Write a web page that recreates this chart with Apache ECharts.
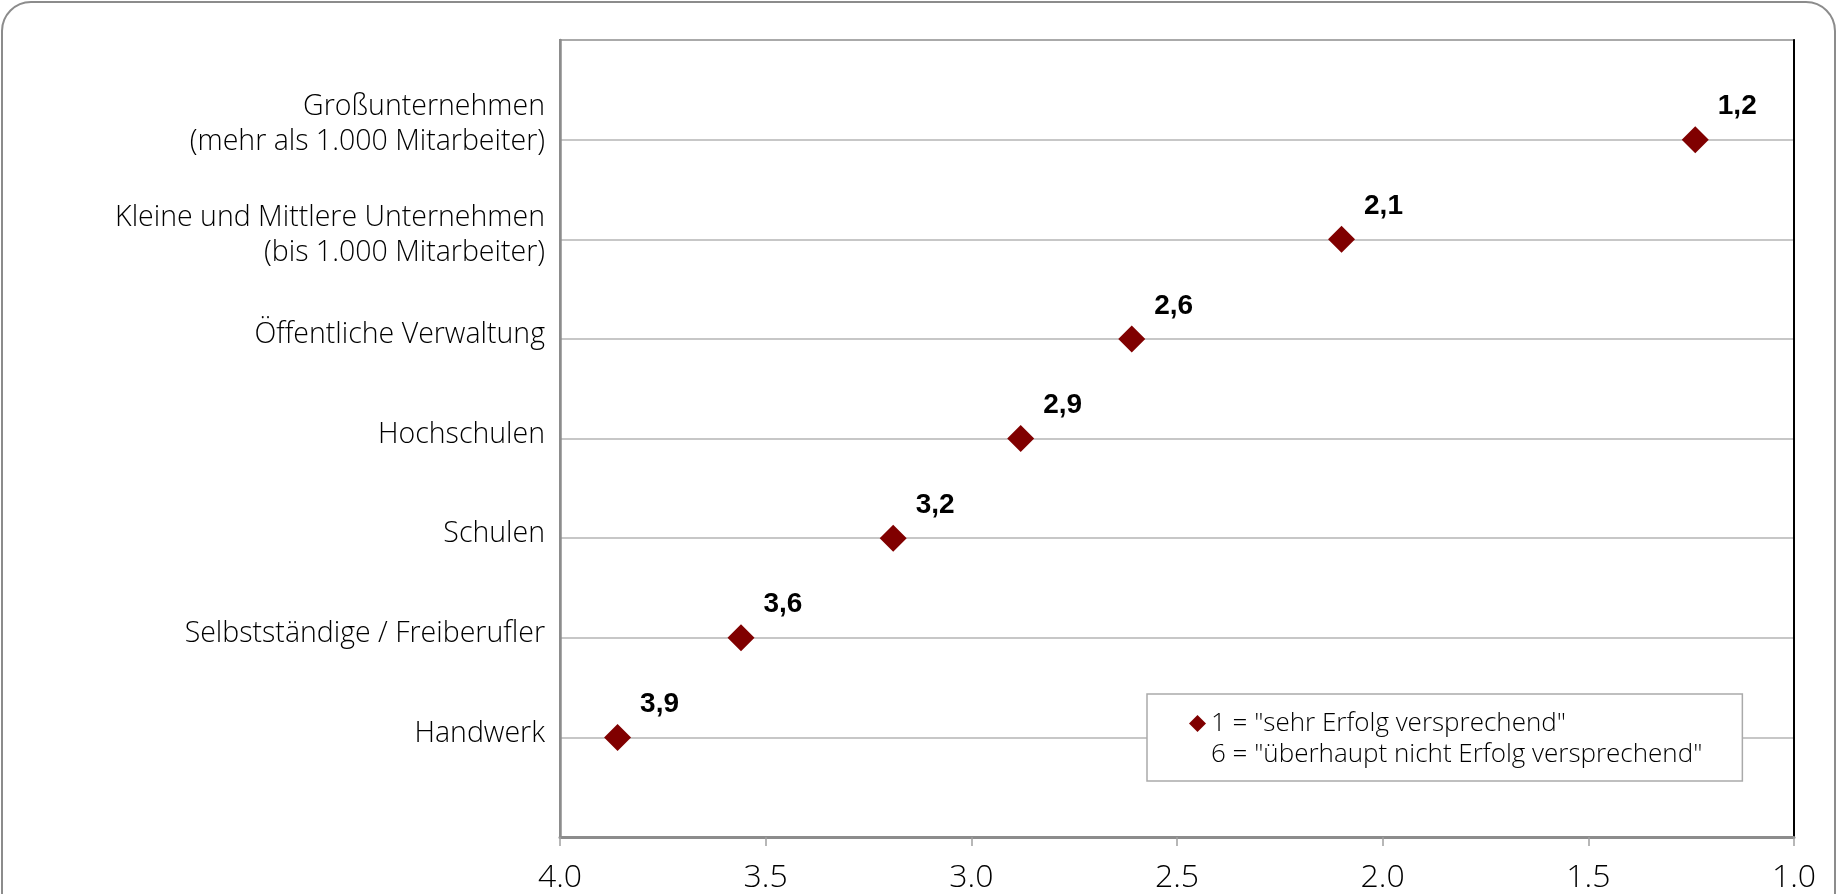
<!DOCTYPE html>
<html>
<head>
<meta charset="utf-8">
<script src="https://cdn.jsdelivr.net/npm/echarts@6/dist/echarts.min.js"></script>
<style>
  html, body { margin: 0; padding: 0; width: 1841px; height: 894px; overflow: hidden; background: #fff; }
  #frame { position: absolute; left: 1px; top: 1px; width: 1835px; height: 1000px; border: 2px solid #8c8c8c; border-radius: 30px; box-sizing: border-box; }
  #chart { position: absolute; left: 0; top: 0; width: 1841px; height: 894px; }
</style>
</head>
<body>
<div id="frame"></div>
<div id="chart"></div>
<script>
// Categories from bottom (1) to top (7)
const categories = [
  'Handwerk',
  'Selbstständige / Freiberufler',
  'Schulen',
  'Hochschulen',
  'Öffentliche Verwaltung',
  'Kleine und Mittlere Unternehmen\n(bis 1.000 Mitarbeiter)',
  'Großunternehmen\n(mehr als 1.000 Mitarbeiter)'
];
// Mean ratings (1 = sehr Erfolg versprechend ... 6 = überhaupt nicht)
const values = [3.86, 3.56, 3.19, 2.88, 2.61, 2.10, 1.24];
const xTicks = { min: 1, max: 4, interval: 0.5 };
const legendLines = ['1 = "sehr Erfolg versprechend"', '6 = "überhaupt nicht Erfolg versprechend"'];

const FONT = "'Open Sans', 'DejaVu Sans', sans-serif";
const points = values.map((v, i) => [v, i + 1]);

const chart = echarts.init(document.getElementById('chart'), null, { renderer: 'canvas' });
chart.setOption({
  backgroundColor: 'transparent',
  animation: false,
  grid: { left: 560, right: 47, top: 40, bottom: 53, show: true, borderColor: '#8c8c8c', borderWidth: 2 },
  xAxis: {
    type: 'value', inverse: true,
    min: xTicks.min, max: xTicks.max, interval: xTicks.interval,
    axisLine: { show: true, lineStyle: { color: '#8c8c8c', width: 3 } },
    axisTick: { show: true, length: 9, lineStyle: { color: '#a0a0a0', width: 1.5 } },
    splitLine: { show: false },
    axisLabel: {
      margin: 25, color: '#000', fontFamily: FONT, fontWeight: 300, fontSize: 32,
      formatter: v => v.toFixed(1)
    }
  },
  yAxis: [{
    type: 'value', min: 0, max: categories.length + 1, interval: 1,
    axisLine: { show: true, lineStyle: { color: '#8c8c8c', width: 2.5 } },
    axisTick: { show: false },
    splitLine: { show: true, lineStyle: { color: '#b5b5b5', width: 1.5 } },
    axisLabel: {
      margin: 15, color: '#000', fontFamily: FONT, fontWeight: 300, fontSize: 28.5, lineHeight: 35,
      align: 'right', padding: [0, 0, 8, 0],
      formatter: v => {
        if (v < 1 || v > categories.length) return '';
        const name = categories[v - 1];
        if (v === categories.length) {
          return name.split('\n').map(s => '{t|' + s + '}').join('\n') + '\n{s| }';
        }
        return name;
      },
      rich: {
        t: { fontFamily: FONT, fontWeight: 300, fontSize: 28.5, lineHeight: 35, color: '#000', align: 'right' },
        s: { fontSize: 10, lineHeight: 23 }
      }
    }
  }, {
    type: 'value', position: 'right', min: 0, max: categories.length + 1, interval: 1,
    axisLine: { show: true, lineStyle: { color: '#000', width: 2 } },
    axisTick: { show: false }, axisLabel: { show: false }, splitLine: { show: false }
  }],
  legend: {
    orient: 'vertical', left: 1147, top: 694,
    padding: [14, 40, 11, 42],
    itemWidth: 17, itemHeight: 17, itemGap: 0,
    borderColor: '#aaaaaa', borderWidth: 1.5, backgroundColor: '#fff',
    selectedMode: false,
    textStyle: { fontFamily: FONT, fontWeight: 300, fontSize: 26, lineHeight: 31, color: '#000' },
    data: [{ name: legendLines[0], icon: 'diamond' }, { name: legendLines[1], icon: 'none' }]
  },
  series: [{
    name: legendLines[0],
    type: 'scatter',
    symbol: 'diamond', symbolSize: 27,
    itemStyle: { color: '#800000', opacity: 1 },
    data: points,
    label: {
      show: true, position: 'right', distance: 0, offset: [9, -33],
      fontFamily: "'Liberation Sans', Arial, sans-serif", fontWeight: 'bold', fontSize: 28, color: '#000',
      formatter: p => p.value[0].toFixed(1).replace('.', ',')
    },
    z: 5
  }, {
    name: legendLines[1],
    type: 'scatter',
    data: []
  }]
});
</script>
</body>
</html>
